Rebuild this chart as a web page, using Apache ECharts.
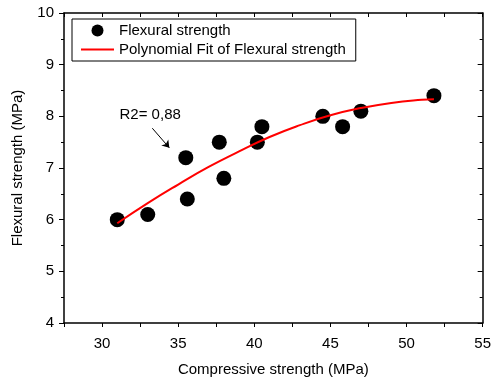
<!DOCTYPE html>
<html>
<head>
<meta charset="utf-8">
<script src="https://cdn.jsdelivr.net/npm/echarts@6/dist/echarts.min.js"></script>
<style>
    html, body { margin: 0; padding: 0; background: #fff; }
    #chart { width: 494px; height: 383px; }
</style>
</head>
<body>
<div id="chart"></div>
<script>
// measured points (compressive, flexural)
const compressive = [31.0, 33.0, 35.5, 35.6, 37.7, 38.0, 40.2, 40.5, 44.5, 45.8, 47.0, 51.8]
const flexural = [6.0, 6.1, 7.2, 6.4, 7.5, 6.8, 7.5, 7.8, 8.0, 7.8, 8.1, 8.4]

// polynomial fit curve
const fitX = [31, 33, 35, 37, 39, 41, 43, 45, 47, 49, 51, 51.8]
const fitY = [5.93, 6.32, 6.68, 7.02, 7.32, 7.60, 7.83, 8.02, 8.16, 8.26, 8.32, 8.33]

const xTicks = [30, 35, 40, 45, 50, 55]
const yTicks = [4, 5, 6, 7, 8, 9, 10]

const font = 'Liberation Sans, Arial, sans-serif'

const chart = echarts.init(document.getElementById('chart'))

// 主坐标轴 + 上/右镜像轴
const baseX = {
    type: 'value',
    min: 27.5,
    max: 55,
    interval: 2.5,
    splitLine: { show: false },
    axisLine: { show: true, onZero: false, lineStyle: { color: '#000', width: 1.5 } },
}
const baseY = {
    type: 'value',
    min: 4,
    max: 10,
    interval: 1,
    splitLine: { show: false },
    axisLine: { show: true, onZero: false, lineStyle: { color: '#000', width: 1.5 } },
    minorTick: { show: true, splitNumber: 2, length: 3, lineStyle: { color: '#000' } },
}

chart.setOption({
    animation: false,
    textStyle: { fontFamily: font },
    grid: { left: 64, right: 8, top: 13, bottom: 60 },
    legend: {
        orient: 'vertical',
        left: 72,
        top: 19,
        padding: [4, 10, 4, 8],
        itemGap: 4,
        itemWidth: 33,
        itemHeight: 12,
        borderColor: '#000',
        borderWidth: 1,
        borderRadius: 0,
        textStyle: { color: '#000', fontSize: 15, fontFamily: font },
        data: [
            { name: 'Flexural strength' },
            // 只要线，不要圆点
            { name: 'Polynomial Fit of Flexural strength', itemStyle: { color: 'rgba(0,0,0,0)', borderWidth: 0 } },
        ],
    },
    xAxis: [
        Object.assign({}, baseX, {
            position: 'bottom',
            name: 'Compressive strength (MPa)',
            nameLocation: 'middle',
            nameGap: 39,
            nameTextStyle: { color: '#000', fontSize: 15, fontFamily: font },
            axisTick: { show: true, inside: false, length: 4, lineStyle: { color: '#000' } },
            axisLabel: {
                color: '#000',
                fontSize: 15,
                margin: 13,
                formatter: v => (xTicks.includes(v) ? String(v) : ''),
            },
        }),
        Object.assign({}, baseX, {
            position: 'top',
            axisTick: { show: true, inside: true, length: 4, lineStyle: { color: '#000' } },
            axisLabel: { show: false },
        }),
    ],
    yAxis: [
        Object.assign({}, baseY, {
            position: 'left',
            name: 'Flexural strength (MPa)',
            nameLocation: 'middle',
            nameGap: 39,
            nameTextStyle: { color: '#000', fontSize: 15, fontFamily: font },
            axisTick: { show: true, inside: false, length: 5, lineStyle: { color: '#000' } },
            axisLabel: {
                color: '#000',
                fontSize: 15,
                margin: 10,
                formatter: v => (yTicks.includes(v) ? String(v) : ''),
            },
        }),
        Object.assign({}, baseY, {
            position: 'right',
            axisTick: { show: true, inside: true, length: 5, lineStyle: { color: '#000' } },
            minorTick: { show: true, splitNumber: 2, length: 3, lineStyle: { color: '#000' } },
            axisLabel: { show: false },
        }),
    ],
    series: [
        {
            name: 'Flexural strength',
            type: 'scatter',
            xAxisIndex: 0,
            yAxisIndex: 0,
            symbol: 'circle',
            symbolSize: 15,
            itemStyle: { color: '#000', opacity: 1 },
            data: compressive.map((x, i) => [x, flexural[i]]),
            // 注释：R2 文本和箭头
            markPoint: {
                silent: true,
                symbol: 'circle',
                symbolSize: 0,
                label: {
                    show: true,
                    position: 'inside',
                    formatter: 'R2= 0,88',
                    color: '#000',
                    fontSize: 15,
                    fontFamily: font,
                },
                data: [{ coord: [33.16, 8.02] }],
            },
            markLine: {
                silent: true,
                symbol: ['none', 'arrow'],
                symbolSize: 7,
                lineStyle: { color: '#000', width: 1, type: 'solid' },
                label: { show: false },
                data: [[{ coord: [33.3, 7.77] }, { coord: [34.42, 7.39] }]],
            },
        },
        {
            name: 'Polynomial Fit of Flexural strength',
            type: 'line',
            xAxisIndex: 0,
            yAxisIndex: 0,
            smooth: true,
            symbol: 'none',
            lineStyle: { color: '#ff0000', width: 2 },
            itemStyle: { color: '#ff0000' },
            data: fitX.map((x, i) => [x, fitY[i]]),
        },
    ],
})
</script>
</body>
</html>
